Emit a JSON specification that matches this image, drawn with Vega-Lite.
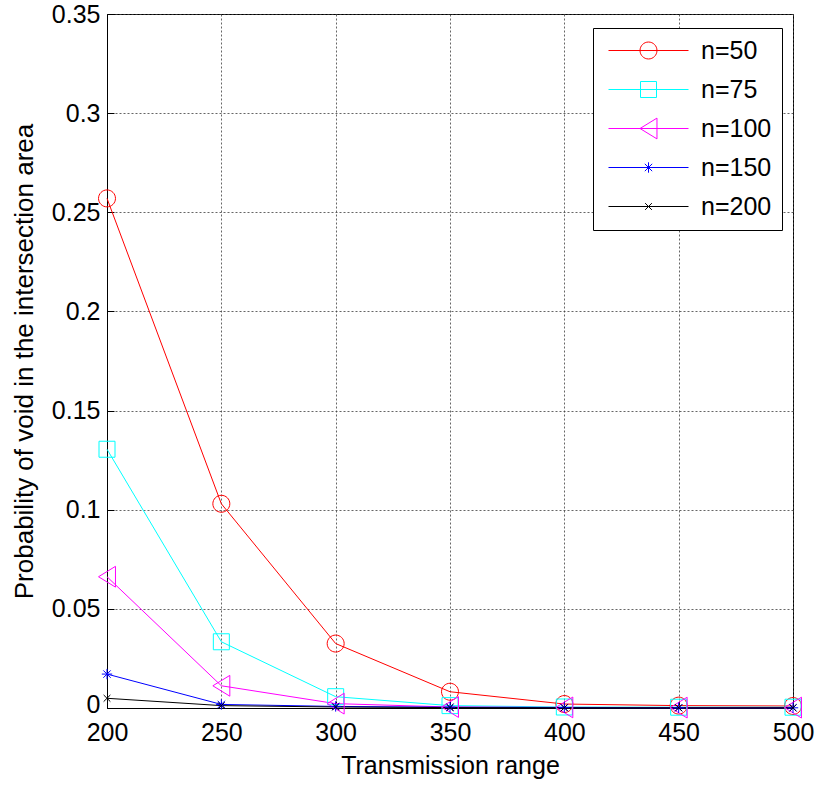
{
  "$schema": "https://vega.github.io/schema/vega-lite/v6.json",
  "width": 686,
  "height": 694,
  "autosize": {"type": "none"},
  "padding": {"left": 107, "top": 14, "right": 24, "bottom": 79},
  "background": "white",
  "data": {"values": [
    {"r": 200, "p": 0.257, "n": "n=50"},
    {"r": 250, "p": 0.103, "n": "n=50"},
    {"r": 300, "p": 0.0325, "n": "n=50"},
    {"r": 350, "p": 0.0082, "n": "n=50"},
    {"r": 400, "p": 0.002, "n": "n=50"},
    {"r": 450, "p": 0.0012, "n": "n=50"},
    {"r": 500, "p": 0.001, "n": "n=50"},
    {"r": 200, "p": 0.1305, "n": "n=75"},
    {"r": 250, "p": 0.0334, "n": "n=75"},
    {"r": 300, "p": 0.0057, "n": "n=75"},
    {"r": 350, "p": 0.0012, "n": "n=75"},
    {"r": 400, "p": 0.0005, "n": "n=75"},
    {"r": 450, "p": 0.0004, "n": "n=75"},
    {"r": 500, "p": 0.0004, "n": "n=75"},
    {"r": 200, "p": 0.0662, "n": "n=100"},
    {"r": 250, "p": 0.0112, "n": "n=100"},
    {"r": 300, "p": 0.0022, "n": "n=100"},
    {"r": 350, "p": 0.0005, "n": "n=100"},
    {"r": 400, "p": 0.0003, "n": "n=100"},
    {"r": 450, "p": 0.0002, "n": "n=100"},
    {"r": 500, "p": 0.0002, "n": "n=100"},
    {"r": 200, "p": 0.0171, "n": "n=150"},
    {"r": 250, "p": 0.0018, "n": "n=150"},
    {"r": 300, "p": 0.0008, "n": "n=150"},
    {"r": 350, "p": 0.0004, "n": "n=150"},
    {"r": 400, "p": 0.0002, "n": "n=150"},
    {"r": 450, "p": 0.0001, "n": "n=150"},
    {"r": 500, "p": 0.0001, "n": "n=150"},
    {"r": 200, "p": 0.0049, "n": "n=200"},
    {"r": 250, "p": 0.0012, "n": "n=200"},
    {"r": 300, "p": 0.0005, "n": "n=200"},
    {"r": 350, "p": 0.0002, "n": "n=200"},
    {"r": 400, "p": 0.0001, "n": "n=200"},
    {"r": 450, "p": 0.0001, "n": "n=200"},
    {"r": 500, "p": 0.0001, "n": "n=200"}
  ]},
  "encoding": {
    "x": {
      "field": "r", "type": "quantitative",
      "scale": {"domain": [200, 500], "nice": false, "zero": false},
      "axis": {"title": "Transmission range", "values": [200, 250, 300, 350, 400, 450, 500], "labelFlush": false, "labelPadding": 19, "titlePadding": 8}
    },
    "y": {
      "field": "p", "type": "quantitative",
      "scale": {"domain": [0, 0.35], "nice": false},
      "axis": {"title": "Probability of void in the intersection area", "values": [0, 0.05, 0.1, 0.15, 0.2, 0.25, 0.3, 0.35], "format": ".2~f", "labelFlush": false, "labelPadding": 14, "titlePadding": 14, "titleFontSize": 26,
        "labelOffset": {"condition": {"test": "datum.value == 0", "value": -4}, "value": 0}}
    }
  },
  "layer": [
    {
      "mark": {"type": "line", "strokeWidth": 1},
      "encoding": {
        "color": {
          "field": "n", "type": "nominal",
          "scale": {"domain": ["n=50", "n=75", "n=100", "n=150", "n=200"], "range": ["#ff0000", "#00ffff", "#ff00ff", "#0000ff", "#000000"]},
          "legend": {
            "orient": "none", "legendX": 486, "legendY": 14, "title": null, "direction": "vertical",
            "strokeColor": "#000", "fillColor": "#fff", "padding": 10,
            "symbolType": "circle",
            "symbolSize": 256, "symbolStrokeWidth": 1, "symbolOffset": 33, "labelOffset": 40, "rowPadding": 13,
            "labelFont": "Liberation Sans", "labelFontSize": 25, "labelColor": "#000",
            "encode": {"symbols": {"update": {
              "shape": {"signal": "datum.value == 'n=50' ? 'M-5,0L5,0M-1.06,0A1.06,1.06 0 1,1 1.06,0A1.06,1.06 0 1,1 -1.06,0Z' : datum.value == 'n=75' ? 'M-5,0L5,0M-1,-1L1,-1L1,1L-1,1Z' : datum.value == 'n=100' ? 'M-5,0L5,0M-1.06,0L1.06,-1.3L1.06,1.3Z' : datum.value == 'n=150' ? 'M-5,0L5,0M-0.65,0L0.65,0M0,-0.65L0,0.65M-0.46,-0.46L0.46,0.46M-0.46,0.46L0.46,-0.46' : 'M-5,0L5,0M-0.42,-0.42L0.42,0.42M-0.42,0.42L0.42,-0.42'"},
              "fill": {"value": "transparent"},
              "strokeWidth": {"value": 1},
              "opacity": {"value": 1}
            }}}
          }
        }
      }
    },
    {
      "transform": [{"filter": "datum.n == 'n=50'"}],
      "mark": {"type": "point", "filled": false, "size": 256, "strokeWidth": 1, "opacity": 1, "color": "#ff0000", "shape": "M-1.06,0A1.06,1.06 0 1,1 1.06,0A1.06,1.06 0 1,1 -1.06,0Z"}
    },
    {
      "transform": [{"filter": "datum.n == 'n=75'"}],
      "mark": {"type": "point", "filled": false, "size": 256, "strokeWidth": 1, "opacity": 1, "color": "#00ffff", "shape": "M-1,-1L1,-1L1,1L-1,1Z"}
    },
    {
      "transform": [{"filter": "datum.n == 'n=100'"}],
      "mark": {"type": "point", "filled": false, "size": 256, "strokeWidth": 1, "opacity": 1, "color": "#ff00ff", "shape": "M-1.06,0L1.06,-1.3L1.06,1.3Z"}
    },
    {
      "transform": [{"filter": "datum.n == 'n=150'"}],
      "mark": {"type": "point", "filled": false, "size": 256, "strokeWidth": 1, "opacity": 1, "color": "#0000ff", "shape": "M-0.65,0L0.65,0M0,-0.65L0,0.65M-0.46,-0.46L0.46,0.46M-0.46,0.46L0.46,-0.46"}
    },
    {
      "transform": [{"filter": "datum.n == 'n=200'"}],
      "mark": {"type": "point", "filled": false, "size": 256, "strokeWidth": 1, "opacity": 1, "color": "#000000", "shape": "M-0.42,-0.42L0.42,0.42M-0.42,0.42L0.42,-0.42"}
    }
  ],
  "config": {
    "view": {"stroke": "#000", "strokeWidth": 1},
    "axis": {
      "labelFont": "Liberation Sans", "labelFontSize": 25, "labelColor": "#000",
      "titleFont": "Liberation Sans", "titleFontSize": 25, "titleFontWeight": "normal", "titleColor": "#000",
      "domainColor": "#000", "ticks": true, "tickSize": -7, "tickColor": "#000", "tickWidth": 1,
      "grid": true, "gridColor": "#404040", "gridDash": [2, 2], "gridOpacity": 0.8, "gridWidth": 1
    }
  }
}
